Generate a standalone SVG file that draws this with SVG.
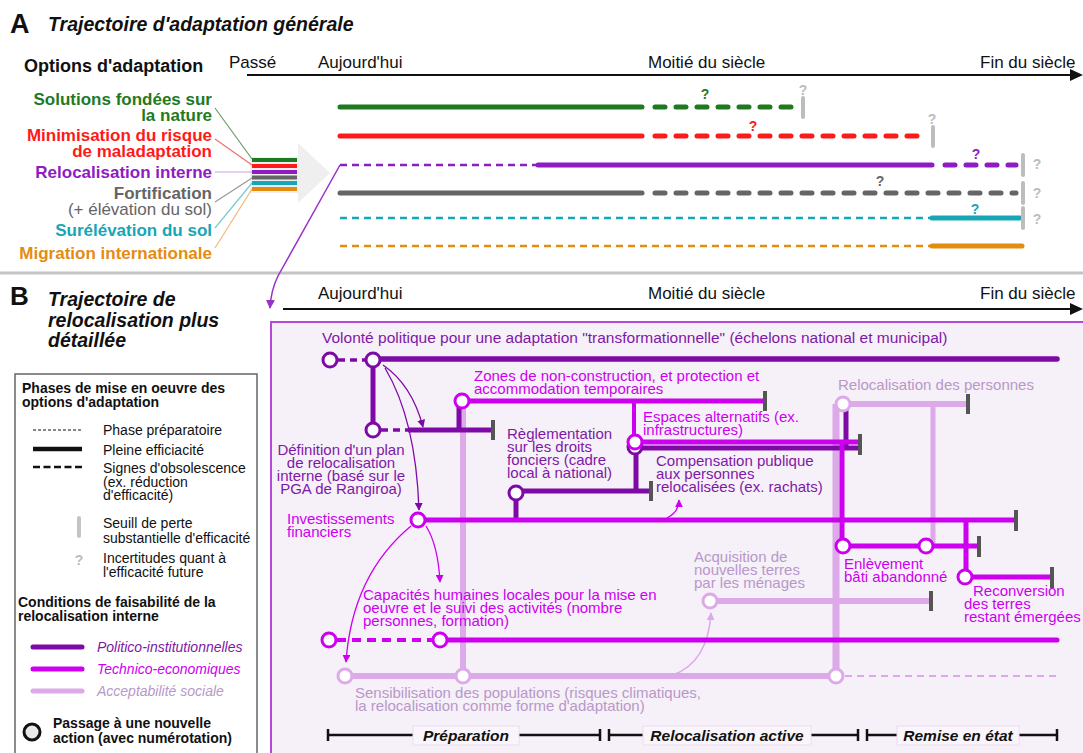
<svg xmlns="http://www.w3.org/2000/svg" width="1083" height="753" viewBox="0 0 1083 753">
<defs>
<style>
text{font-family:"Liberation Sans",Arial,Helvetica,sans-serif}
.lbl{font-size:17px;font-weight:bold;text-anchor:end}
.ax{font-size:17px;fill:#111}
.ttl{font-size:19.5px;font-weight:bold;font-style:italic;fill:#111}
.big{font-size:27px;font-weight:bold;fill:#111}
.q{font-size:14px;font-weight:bold;text-anchor:middle}
.qg{fill:#bcbcbc}
.tkA{stroke:#bdbdbd;stroke-width:4;stroke-linecap:round}
.sol{stroke-width:5;stroke-linecap:round;fill:none}
.obs{stroke-width:5;stroke-linecap:round;stroke-dasharray:10 11;fill:none}
.prep{stroke-width:2.5;stroke-dasharray:7 5;fill:none}
.thin{stroke-width:1.2;fill:none}
.lg{font-size:14px;fill:#111}
.lgb{font-size:14px;font-weight:bold;fill:#111}
.lgi{font-size:14px;font-style:italic}
.bt{font-size:15px}
.tp{fill:#7e18a6}
.tt{fill:#cc00ee}
.ts{fill:#b898c8}
.lp{stroke:#7e0aa6;stroke-width:5;fill:none}
.lt{stroke:#cc00ee;stroke-width:5;fill:none}
.ls{stroke:#dcaae8;stroke-width:6;fill:none}
.tkB{stroke:#555;stroke-width:4}
.cp{fill:#fff;stroke:#7e0aa6;stroke-width:3}
.ct{fill:#fff;stroke:#cc00ee;stroke-width:3}
.cs{fill:#fff;stroke:#dcaae8;stroke-width:3}
.ph{font-size:15.5px;font-weight:bold;font-style:italic;fill:#111;text-anchor:middle}
.phl{stroke:#111;stroke-width:2.5}
.phb{fill:#f9f5fb;stroke:#ecdcf2;stroke-width:1}
</style>
<marker id="ap" viewBox="0 0 10 10" refX="9" refY="5" markerWidth="8" markerHeight="8" markerUnits="userSpaceOnUse" orient="auto"><path d="M0,0 L10,5 L0,10 z" fill="#7e0aa6"/></marker>
<marker id="at" viewBox="0 0 10 10" refX="9" refY="5" markerWidth="8" markerHeight="8" markerUnits="userSpaceOnUse" orient="auto"><path d="M0,0 L10,5 L0,10 z" fill="#cc00ee"/></marker>
<marker id="as" viewBox="0 0 10 10" refX="9" refY="5" markerWidth="8" markerHeight="8" markerUnits="userSpaceOnUse" orient="auto"><path d="M0,0 L10,5 L0,10 z" fill="#dcaae8"/></marker>
<marker id="av" viewBox="0 0 10 10" refX="9" refY="5" markerWidth="9" markerHeight="9" markerUnits="userSpaceOnUse" orient="auto"><path d="M0,0 L10,5 L0,10 z" fill="#9a30c8"/></marker>
</defs>
<rect width="1083" height="753" fill="#fff"/>

<!-- Panel A -->
<g id="panelA-title">
<text x="10" y="33" class="big">A</text>
<text x="48" y="31" class="ttl">Trajectoire d'adaptation générale</text>
</g>
<g id="axisA">
<text x="24" y="72" style="font-size:18px;font-weight:bold;fill:#111">Options d'adaptation</text>
<text x="229" y="68" class="ax">Passé</text>
<text x="318" y="68" class="ax">Aujourd'hui</text>
<text x="648" y="68" class="ax">Moitié du siècle</text>
<text x="980" y="68" class="ax">Fin du siècle</text>
<line x1="247" y1="75" x2="1072" y2="75" stroke="#111" stroke-width="2"/>
<polygon points="1070,69 1083,75 1070,81" fill="#111"/>
</g>
<g id="option-labels">
<text x="212" y="105" class="lbl" fill="#1f7a1f">Solutions fondées sur</text>
<text x="212" y="121" class="lbl" fill="#1f7a1f">la nature</text>
<text x="212" y="141" class="lbl" fill="#ff1a1a">Minimisation du risque</text>
<text x="212" y="157" class="lbl" fill="#ff1a1a">de maladaptation</text>
<text x="212" y="178" class="lbl" fill="#8f1bc2">Relocalisation interne</text>
<text x="212" y="199" class="lbl" fill="#656565">Fortification</text>
<text x="212" y="215" style="font-size:17px;text-anchor:end" fill="#656565">(+ élévation du sol)</text>
<text x="212" y="236" class="lbl" fill="#17a6b6">Surélévation du sol</text>
<text x="212" y="259" class="lbl" fill="#e48c10">Migration internationale</text>
</g>
<g id="bundle">
<polygon points="250,157 298,157 298,143 330,173 298,203 298,193 250,193" fill="#efefef"/>
<line x1="215" y1="108" x2="252" y2="159" stroke="#6a9a6a" class="thin"/>
<line x1="215" y1="139" x2="252" y2="165" stroke="#f07070" class="thin"/>
<line x1="215" y1="172" x2="252" y2="172" stroke="#c9a0e0" class="thin"/>
<line x1="215" y1="202" x2="252" y2="178" stroke="#999" class="thin"/>
<line x1="215" y1="228" x2="252" y2="183" stroke="#7cc8d6" class="thin"/>
<line x1="215" y1="248" x2="252" y2="189" stroke="#f0b878" class="thin"/>
<line x1="252" y1="160" x2="297" y2="160" stroke="#1f7a1f" stroke-width="4"/>
<line x1="252" y1="166" x2="297" y2="166" stroke="#ff1a1a" stroke-width="4"/>
<line x1="252" y1="172" x2="297" y2="172" stroke="#8f1bc2" stroke-width="4"/>
<line x1="252" y1="177.5" x2="297" y2="177.5" stroke="#656565" stroke-width="4"/>
<line x1="252" y1="183" x2="297" y2="183" stroke="#17a6b6" stroke-width="4"/>
<line x1="252" y1="189" x2="297" y2="189" stroke="#e48c10" stroke-width="4"/>
</g>
<g id="row-nature">
<line x1="340" y1="107" x2="642" y2="107" class="sol" stroke="#1f7a1f"/>
<line x1="655" y1="107" x2="798" y2="107" class="obs" stroke="#1f7a1f"/>
<line x1="803" y1="98" x2="803" y2="117" class="tkA"/>
<text x="705" y="99" class="q" fill="#1f7a1f">?</text>
<text x="803" y="95" class="q qg">?</text>
</g>
<g id="row-maladaptation">
<line x1="340" y1="136" x2="642" y2="136" class="sol" stroke="#ff1a1a"/>
<line x1="655" y1="136" x2="928" y2="136" class="obs" stroke="#ff1a1a"/>
<line x1="933" y1="127" x2="933" y2="146" class="tkA"/>
<text x="753" y="131" class="q" fill="#ff1a1a">?</text>
<text x="932" y="124" class="q qg">?</text>
</g>
<g id="row-relocalisation">
<line x1="340" y1="165" x2="538" y2="165" class="prep" stroke="#8f1bc2"/>
<line x1="538" y1="165" x2="932" y2="165" class="sol" stroke="#8f1bc2"/>
<line x1="945" y1="165" x2="1016" y2="165" class="obs" stroke="#8f1bc2"/>
<line x1="1023" y1="155" x2="1023" y2="175" class="tkA"/>
<text x="976" y="159" class="q" fill="#8f1bc2">?</text>
<text x="1037" y="169" class="q qg">?</text>
</g>
<g id="row-fortification">
<line x1="340" y1="193" x2="642" y2="193" class="sol" stroke="#656565"/>
<line x1="655" y1="193" x2="1016" y2="193" class="obs" stroke="#656565"/>
<line x1="1023" y1="183" x2="1023" y2="203" class="tkA"/>
<text x="880" y="186" class="q" fill="#656565">?</text>
<text x="1037" y="198" class="q qg">?</text>
</g>
<g id="row-surelevation">
<line x1="340" y1="218" x2="930" y2="218" class="prep" stroke="#17a6b6"/>
<line x1="932" y1="218" x2="1020" y2="218" class="sol" stroke="#17a6b6"/>
<line x1="1023" y1="208" x2="1023" y2="228" class="tkA"/>
<text x="975" y="214" class="q" fill="#17a6b6">?</text>
<text x="1037" y="224" class="q qg">?</text>
</g>
<g id="row-migration">
<line x1="340" y1="246" x2="930" y2="246" class="prep" stroke="#e48c10"/>
<line x1="932" y1="246" x2="1022" y2="246" class="sol" stroke="#e48c10"/>
</g>
<line x1="0" y1="273" x2="1083" y2="273" stroke="#c4c4c4" stroke-width="3"/>

<!-- Panel B -->
<g id="panelB-title">
<text x="10" y="305" class="big" style="font-size:26px">B</text>
<text x="48" y="306" class="ttl">Trajectoire de</text>
<text x="48" y="327" class="ttl">relocalisation plus</text>
<text x="48" y="347" class="ttl">détaillée</text>
</g>
<g id="axisB">
<text x="318" y="299" class="ax">Aujourd'hui</text>
<text x="648" y="299" class="ax">Moitié du siècle</text>
<text x="980" y="299" class="ax">Fin du siècle</text>
<line x1="283" y1="309" x2="1072" y2="309" stroke="#111" stroke-width="2"/>
<polygon points="1070,303 1083,309 1070,315" fill="#111"/>
</g>
<rect id="panelB-box" x="271" y="322" width="820" height="440" fill="#f6f0f8" stroke="#b548d8" stroke-width="2"/>

<g id="legend">
<rect x="15" y="374" width="242" height="390" fill="#fff" stroke="#666" stroke-width="1.5"/>
<text x="22" y="393" class="lgb">Phases de mise en oeuvre des</text>
<text x="22" y="407" class="lgb">options d'adaptation</text>
<line x1="33" y1="430" x2="82" y2="430" stroke="#111" stroke-width="1" stroke-dasharray="3 2"/>
<text x="103" y="435" class="lg">Phase préparatoire</text>
<line x1="33" y1="449" x2="82" y2="449" stroke="#111" stroke-width="4.5"/>
<text x="103" y="455" class="lg">Pleine efficiacité</text>
<line x1="33" y1="467" x2="82" y2="467" stroke="#111" stroke-width="2.5" stroke-dasharray="7 3.5"/>
<text x="103" y="473" class="lg">Signes d'obsolescence</text>
<text x="103" y="487" class="lg">(ex. réduction</text>
<text x="103" y="500" class="lg">d'efficacité)</text>
<line x1="79" y1="518" x2="79" y2="536" stroke="#c4c4c4" stroke-width="4" stroke-linecap="round"/>
<text x="103" y="528" class="lg">Seuill de perte</text>
<text x="103" y="543" class="lg">substantielle d'efficacité</text>
<text x="79" y="565" class="q qg">?</text>
<text x="103" y="563" class="lg">Incertitudes quant à</text>
<text x="103" y="577" class="lg">l'efficacité future</text>
<text x="18" y="607" class="lgb">Conditions de faisabilité de la</text>
<text x="18" y="621" class="lgb">relocalisation interne</text>
<line x1="33" y1="647" x2="82" y2="647" stroke="#7e0aa6" stroke-width="5" stroke-linecap="round"/>
<text x="97" y="652" class="lgi tp">Politico-institutionnelles</text>
<line x1="33" y1="669" x2="82" y2="669" stroke="#cc00ee" stroke-width="5" stroke-linecap="round"/>
<text x="97" y="674" class="lgi tt">Technico-economiques</text>
<line x1="33" y1="691" x2="82" y2="691" stroke="#dcaae8" stroke-width="5" stroke-linecap="round"/>
<text x="97" y="696" class="lgi ts">Acceptabilité sociale</text>
<circle cx="32" cy="732" r="8" fill="#e8e8e8" stroke="#111" stroke-width="3"/>
<text x="53" y="728" class="lgb">Passage à une nouvelle</text>
<text x="53" y="743" class="lgb">action (avec numérotation)</text>
</g>

<g id="connectors">
<path d="M340,165 L278,276 Q271,290 270,308" stroke="#9a30c8" stroke-width="1.5" fill="none" marker-end="url(#av)"/>
<!-- social lines -->
<line x1="463" y1="401" x2="463" y2="676" class="ls"/>
<line x1="836" y1="404" x2="836" y2="676" class="ls" style="stroke-width:7"/>
<line x1="933" y1="404" x2="933" y2="546" class="ls" style="stroke-width:5"/>
<line x1="843" y1="404" x2="968" y2="404" class="ls"/>
<line x1="968" y1="394" x2="968" y2="414" class="tkB"/>
<line x1="710" y1="601" x2="931" y2="601" class="ls"/>
<line x1="931" y1="591" x2="931" y2="611" class="tkB"/>
<line x1="345" y1="676" x2="836" y2="676" class="ls"/>
<line x1="845" y1="676" x2="1057" y2="676" stroke="#dcaae8" stroke-width="2" stroke-dasharray="7 5"/>
<path d="M673,675 Q708,662 711,613" stroke="#dcaae8" stroke-width="1.5" fill="none" marker-end="url(#as)"/>
<!-- politico lines -->
<line x1="338" y1="360" x2="366" y2="360" class="lp" style="stroke-width:3.5;stroke-dasharray:7 5"/>
<line x1="373" y1="359" x2="1057" y2="359" class="lp" style="stroke-width:5.5;stroke-linecap:round"/>
<line x1="373" y1="360" x2="373" y2="430" class="lp"/>
<line x1="381" y1="430" x2="408" y2="430" class="lp" style="stroke-width:3.5;stroke-dasharray:7 5"/>
<line x1="408" y1="430" x2="493" y2="430" class="lp"/>
<line x1="493" y1="420" x2="493" y2="440" class="tkB"/>
<line x1="459" y1="401" x2="459" y2="430" class="lp"/>
<line x1="636" y1="442" x2="636" y2="491" class="lp"/>
<line x1="516" y1="491" x2="651" y2="491" class="lp"/>
<line x1="651" y1="481" x2="651" y2="501" class="tkB"/>
<line x1="516" y1="491" x2="516" y2="520" class="lp"/>
<line x1="635" y1="448" x2="860" y2="448" class="lp"/>
<line x1="846" y1="404" x2="846" y2="450" class="lp"/>
<!-- technico lines -->
<line x1="462" y1="401" x2="765" y2="401" class="lt"/>
<line x1="765" y1="391" x2="765" y2="411" class="tkB"/>
<line x1="634" y1="401" x2="634" y2="442" class="lt" style="stroke-width:4"/>
<line x1="635" y1="442" x2="860" y2="442" class="lt"/>
<line x1="860" y1="434" x2="860" y2="455" class="tkB"/>
<line x1="418" y1="520" x2="1016" y2="520" class="lt"/>
<line x1="1016" y1="510" x2="1016" y2="531" class="tkB"/>
<line x1="842" y1="442" x2="842" y2="546" class="lt"/>
<line x1="843" y1="546" x2="979" y2="546" class="lt"/>
<line x1="979" y1="536" x2="979" y2="557" class="tkB"/>
<line x1="966" y1="520" x2="966" y2="577" class="lt"/>
<line x1="965" y1="577" x2="1052" y2="577" class="lt"/>
<line x1="1052" y1="567" x2="1052" y2="588" class="tkB"/>
<line x1="337" y1="640" x2="432" y2="640" class="lt" style="stroke-width:4;stroke-dasharray:9 6"/>
<line x1="440" y1="640" x2="1057" y2="640" class="lt" style="stroke-linecap:round"/>
<!-- arrows -->
<path d="M383,365 Q412,385 423,427" stroke="#7e0aa6" stroke-width="1.3" fill="none" marker-end="url(#ap)"/>
<path d="M385,368 Q416,420 419,510" stroke="#7e0aa6" stroke-width="1.3" fill="none" marker-end="url(#ap)"/>
<path d="M426,526 Q438,545 440,582" stroke="#cc00ee" stroke-width="1.3" fill="none" marker-end="url(#at)"/>
<path d="M411,526 Q352,575 346,662" stroke="#cc00ee" stroke-width="1.3" fill="none" marker-end="url(#at)"/>
<path d="M667,518 Q679,512 679,500" stroke="#cc00ee" stroke-width="1.3" fill="none" marker-end="url(#at)"/>
</g>

<g id="node-volonte">
<text x="322" y="343" class="bt tp" style="font-size:15.5px">Volonté politique pour une adaptation "transformationnelle" (échelons national et municipal)</text>
<circle cx="330" cy="360" r="7" class="cp"/>
<circle cx="373" cy="360" r="7" class="cp"/>
</g>
<g id="node-definition">
<circle cx="373" cy="430" r="7" class="cp"/>
<text class="bt tp" text-anchor="middle"><tspan x="341" y="455">Définition d'un plan</tspan><tspan x="341" y="468">de relocalisation</tspan><tspan x="341" y="481">interne (basé sur le</tspan><tspan x="341" y="494">PGA de Rangiroa)</tspan></text>
</g>
<g id="node-zones">
<text class="bt tt"><tspan x="474" y="381">Zones de non-construction, et protection et</tspan><tspan x="474" y="394">accommodation temporaires</tspan></text>
<circle cx="462" cy="401" r="7" class="ct"/>
</g>
<g id="node-espaces">
<text class="bt tt"><tspan x="643" y="422">Espaces alternatifs (ex.</tspan><tspan x="643" y="435">infrastructures)</tspan></text>
<circle cx="635" cy="447" r="7" class="cp"/>
<circle cx="635" cy="442" r="7" class="ct"/>
</g>
<g id="node-reglementation">
<text class="bt tp"><tspan x="507" y="439">Règlementation</tspan><tspan x="507" y="452">sur les droits</tspan><tspan x="507" y="465">fonciers (cadre</tspan><tspan x="507" y="478">local à national)</tspan></text>
<circle cx="516" cy="493" r="7" class="cp"/>
</g>
<g id="node-compensation">
<text class="bt tp"><tspan x="656" y="466">Compensation publique</tspan><tspan x="656" y="479">aux personnes</tspan><tspan x="656" y="492">relocalisées (ex. rachats)</tspan></text>
</g>
<g id="node-relocalisation-personnes">
<text x="838" y="390" class="bt ts">Relocalisation des personnes</text>
<circle cx="843" cy="404" r="7" class="cs"/>
</g>
<g id="node-investissements">
<text class="bt tt"><tspan x="287" y="524">Investissements</tspan><tspan x="287" y="537">financiers</tspan></text>
<circle cx="418" cy="520" r="7" class="ct"/>
</g>
<g id="node-enlevement">
<circle cx="843" cy="546" r="7" class="ct"/>
<circle cx="926" cy="546" r="7" class="ct"/>
<text class="bt tt"><tspan x="844" y="569">Enlèvement</tspan><tspan x="844" y="582">bâti abandonné</tspan></text>
</g>
<g id="node-reconversion">
<circle cx="965" cy="577" r="7" class="ct"/>
<text class="bt tt"><tspan x="973" y="596">Reconversion</tspan><tspan x="964" y="609">des terres</tspan><tspan x="964" y="622">restant émergées</tspan></text>
</g>
<g id="node-acquisition">
<text class="bt ts"><tspan x="694" y="562">Acquisition de</tspan><tspan x="694" y="575">nouvelles terres</tspan><tspan x="694" y="588">par les ménages</tspan></text>
<circle cx="710" cy="601" r="7" class="cs"/>
</g>
<g id="node-capacites">
<text class="bt tt"><tspan x="363" y="600">Capacités humaines locales pour la mise en</tspan><tspan x="363" y="613">oeuvre et le suivi des activités (nombre</tspan><tspan x="363" y="626">personnes, formation)</tspan></text>
<circle cx="329" cy="640" r="7" class="ct"/>
<circle cx="440" cy="640" r="7" class="ct"/>
</g>
<g id="node-sensibilisation">
<circle cx="345" cy="676" r="7" class="cs"/>
<circle cx="463" cy="676" r="7" class="cs"/>
<circle cx="836" cy="676" r="7" class="cs"/>
<text class="bt ts"><tspan x="355" y="698">Sensibilisation des populations (risques climatiques,</tspan><tspan x="355" y="711">la relocalisation comme forme d'adaptation)</tspan></text>
</g>

<g id="phases">
<line x1="328" y1="735" x2="600" y2="735" class="phl"/>
<line x1="328" y1="729" x2="328" y2="741" class="phl"/>
<line x1="600" y1="729" x2="600" y2="741" class="phl"/>
<rect x="413" y="726" width="106" height="19" class="phb"/>
<text x="466" y="741" class="ph">Préparation</text>
<line x1="609" y1="735" x2="858" y2="735" class="phl"/>
<line x1="609" y1="729" x2="609" y2="741" class="phl"/>
<line x1="858" y1="729" x2="858" y2="741" class="phl"/>
<rect x="643" y="726" width="168" height="19" class="phb"/>
<text x="727" y="741" class="ph">Relocalisation active</text>
<line x1="867" y1="735" x2="1057" y2="735" class="phl"/>
<line x1="867" y1="729" x2="867" y2="741" class="phl"/>
<line x1="1057" y1="729" x2="1057" y2="741" class="phl"/>
<rect x="897" y="726" width="122" height="19" class="phb"/>
<text x="958" y="741" class="ph">Remise en état</text>
</g>
</svg>
